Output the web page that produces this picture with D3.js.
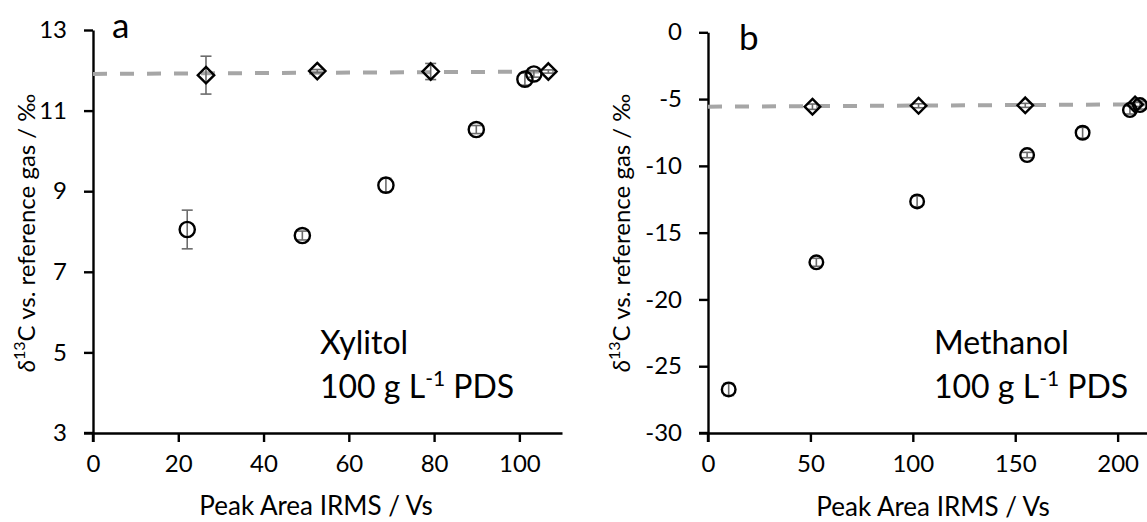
<!DOCTYPE html>
<html>
<head>
<meta charset="utf-8">
<script src="https://cdn.jsdelivr.net/npm/d3@7"></script>
<style>
  html, body { margin: 0; padding: 0; background: #fff; }
  svg { display: block; font-family: Lato, "Open Sans", sans-serif; }
</style>
</head>
<body>
<svg id="chart" width="1147" height="522"></svg>
<script>
// ---- Panel a: Xylitol, 100 g/L PDS ----
const xylDiamondArea = [26.5, 52.6, 79.2, 106.8];
const xylDiamondDelta = [11.88, 11.98, 11.97, 11.97];
const xylDiamondErr = [0.47, 0.04, 0.2, 0.04];
const xylCircleArea = [22.1, 49.1, 68.7, 89.9, 101.3, 103.4];
const xylCircleDelta = [8.05, 7.9, 9.15, 10.53, 11.78, 11.91];
const xylCircleErr = [0.48, 0.11, 0.17, 0.1, 0.15, 0.08];
const xylTrendArea = [0, 108.7];
const xylTrendDelta = [11.91, 11.97];
const xylXTicks = [0, 20, 40, 60, 80, 100];
const xylYTicks = [3, 5, 7, 9, 11, 13];

// ---- Panel b: Methanol, 100 g/L PDS ----
const metDiamondArea = [51.0, 102.8, 154.9, 208.5];
const metDiamondDelta = [-5.57, -5.5, -5.47, -5.4];
const metDiamondErr = [0.2, 0.15, 0.15, 0.15];
const metCircleArea = [10.1, 52.9, 102.1, 155.8, 182.9, 206.0, 210.9];
const metCircleDelta = [-26.74, -17.22, -12.66, -9.19, -7.52, -5.82, -5.45];
const metCircleErr = [0.45, 0.3, 0.4, 0.2, 0.4, 0.3, 0.3];
const metTrendArea = [0, 220];
const metTrendDelta = [-5.57, -5.39];
const metXTicks = [0, 50, 100, 150, 200];
const metYTicks = [-30, -25, -20, -15, -10, -5, 0];

const svg = d3.select("#chart");
const INK = "#000";
const ERR = "#6b6b6b";
const TREND = "#a6a6a6";
const plainNumber = v => String(v);   // hyphen-minus for negatives

function zip(xs, ys, es) {
  return xs.map((x, i) => ({ x, y: ys[i], e: es ? es[i] : 0 }));
}

function drawPanel(p) {
  const x = d3.scaleLinear().domain(p.xDomain).range([p.left, p.right]);
  const y = d3.scaleLinear().domain(p.yDomain).range([p.bottom, p.top]);
  const g = svg.append("g");

  // axes
  const xAxis = d3.axisBottom(x).tickValues(p.xTicks).tickFormat(plainNumber)
    .tickSize(9).tickSizeOuter(0).tickPadding(13);
  const yAxis = d3.axisLeft(y).tickValues(p.yTicks).tickFormat(plainNumber)
    .tickSize(9).tickSizeOuter(0).tickPadding(17);
  const gx = g.append("g").attr("transform", `translate(0,${p.bottom})`).call(xAxis);
  const gy = g.append("g").attr("transform", `translate(${p.left},0)`).call(yAxis);
  [gx, gy].forEach(a => {
    a.selectAll(".domain").attr("stroke", INK).attr("stroke-width", 2.4);
    a.selectAll(".tick line").attr("stroke", INK).attr("stroke-width", 2.4);
    a.selectAll(".tick text").attr("fill", INK).attr("font-size", 24).attr("font-family", "Lato, sans-serif");
  });
  // corner: short stubs where both axes meet
  g.append("line")
    .attr("x1", p.left).attr("x2", p.left)
    .attr("y1", p.bottom).attr("y2", p.bottom + 9)
    .attr("stroke", INK).attr("stroke-width", 2.4);
  g.append("line")
    .attr("x1", p.left - 9).attr("x2", p.left)
    .attr("y1", p.bottom).attr("y2", p.bottom)
    .attr("stroke", INK).attr("stroke-width", 2.4);

  // trend line across the diamond series
  g.append("line")
    .attr("x1", x(p.trendX[0])).attr("x2", x(p.trendX[1]))
    .attr("y1", y(p.trendY[0])).attr("y2", y(p.trendY[1]))
    .attr("stroke", TREND).attr("stroke-width", 4)
    .attr("stroke-dasharray", "14,13");

  const circles = zip(p.cx, p.cy, p.ce);
  const diamonds = zip(p.dx, p.dy, p.de);
  const all = circles.concat(diamonds);

  // error bars
  const eb = g.append("g").attr("stroke", ERR).attr("stroke-width", 1.6);
  all.forEach(d => {
    const xp = x(d.x), y1 = y(d.y - d.e), y2 = y(d.y + d.e);
    eb.append("line").attr("x1", xp).attr("x2", xp).attr("y1", y1).attr("y2", y2);
    eb.append("line").attr("x1", xp - 5.5).attr("x2", xp + 5.5).attr("y1", y1).attr("y2", y1);
    eb.append("line").attr("x1", xp - 5.5).attr("x2", xp + 5.5).attr("y1", y2).attr("y2", y2);
  });

  // circle markers
  g.append("g").selectAll("circle").data(circles).join("circle")
    .attr("cx", d => x(d.x)).attr("cy", d => y(d.y)).attr("r", p.r)
    .attr("fill", "none").attr("stroke", INK).attr("stroke-width", 2.4);

  // diamond markers
  const s = p.dsize;
  g.append("g").selectAll("path").data(diamonds).join("path")
    .attr("d", d => {
      const a = x(d.x), b = y(d.y);
      return `M${a},${b - s}L${a + s},${b}L${a},${b + s}L${a - s},${b}Z`;
    })
    .attr("fill", "none").attr("stroke", INK).attr("stroke-width", 2.4)
    .attr("stroke-linejoin", "miter");

  // panel letter
  g.append("text").attr("x", p.letterX).attr("y", p.letterY)
    .attr("font-size", 35).attr("fill", INK).text(p.letter);

  // compound annotation
  g.append("text").attr("font-size", 32).attr("fill", INK)
    .attr("x", p.annX).attr("y", 354).text(p.compound);
  const l2 = g.append("text").attr("font-size", 32).attr("fill", INK)
    .attr("x", p.annX).attr("y", 398);
  l2.append("tspan").text("100 g L");
  l2.append("tspan").attr("font-size", 21).attr("dy", -12).text("-1");
  l2.append("tspan").attr("dy", 12).text(" PDS");

  // x-axis title
  g.append("text")
    .attr("x", p.xTitleX).attr("y", p.xTitleY)
    .attr("text-anchor", "middle").attr("font-size", 26).attr("fill", INK)
    .text("Peak Area IRMS / Vs");

  // y-axis title
  const yt = g.append("text")
    .attr("transform", `translate(${p.yTitleX},${p.yTitleMid}) rotate(-90)`)
    .attr("text-anchor", "middle").attr("font-size", 24).attr("fill", INK);
  yt.append("tspan").attr("font-style", "italic").text("δ");
  yt.append("tspan").attr("font-size", 16).attr("dy", -10).text("13");
  yt.append("tspan").attr("dy", 10).text("C vs. reference gas / ‰");
}

drawPanel({
  left: 93, right: 562, top: 30, bottom: 433,
  xDomain: [0, 110], yDomain: [3, 13],
  xTicks: xylXTicks, yTicks: xylYTicks,
  cx: xylCircleArea, cy: xylCircleDelta, ce: xylCircleErr,
  dx: xylDiamondArea, dy: xylDiamondDelta, de: xylDiamondErr,
  trendX: xylTrendArea, trendY: xylTrendDelta,
  r: 7.6, dsize: 8.2,
  letter: "a", letterX: 112, letterY: 38,
  compound: "Xylitol", annX: 320,
  xTitleX: 316, xTitleY: 515, yTitleX: 35, yTitleMid: 233
});

drawPanel({
  left: 708, right: 1158.6, top: 32.3, bottom: 433,
  xDomain: [0, 220], yDomain: [-30, 0],
  xTicks: metXTicks, yTicks: metYTicks,
  cx: metCircleArea, cy: metCircleDelta, ce: metCircleErr,
  dx: metDiamondArea, dy: metDiamondDelta, de: metDiamondErr,
  trendX: metTrendArea, trendY: metTrendDelta,
  r: 6.8, dsize: 7.8,
  letter: "b", letterX: 739, letterY: 50,
  compound: "Methanol", annX: 934,
  xTitleX: 933, xTitleY: 516, yTitleX: 630, yTitleMid: 233
});
</script>
</body>
</html>
